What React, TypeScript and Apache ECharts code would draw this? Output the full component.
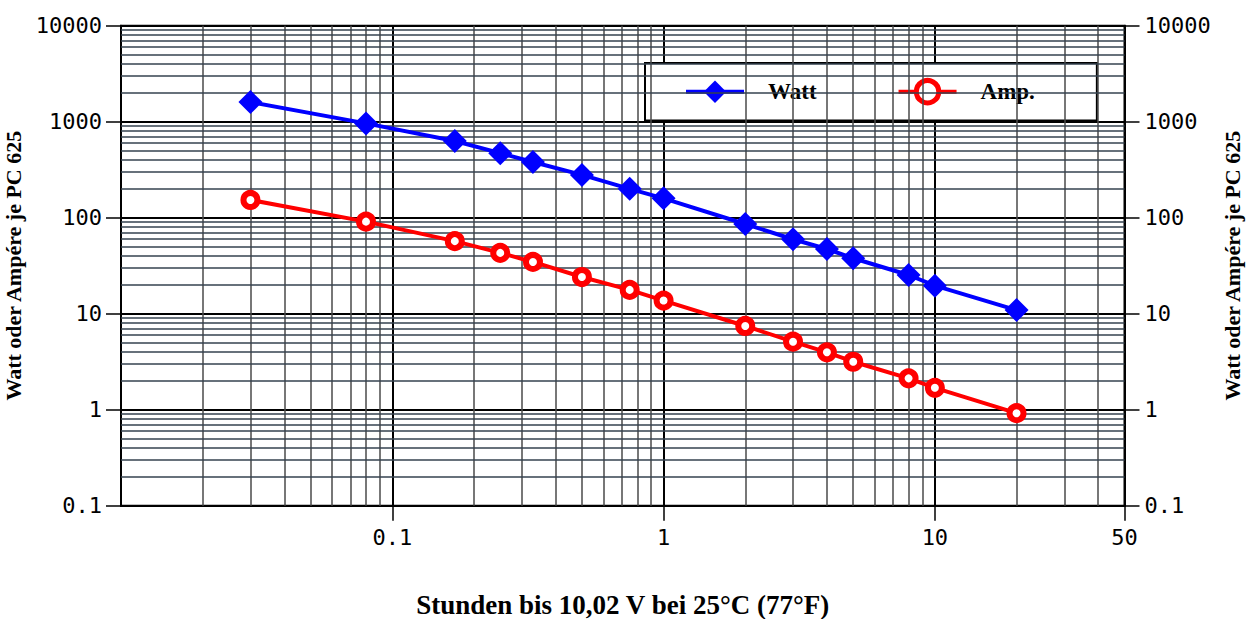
import React, { useEffect, useRef } from 'react';
import * as echarts from 'echarts';

// Hours until 10.02 V at 25°C
const hours = [0.03, 0.08, 0.17, 0.25, 0.33, 0.5, 0.75, 1, 2, 3, 4, 5, 8, 10, 20];
// Watt per PC 625
const watt = [1600, 960, 630, 470, 380, 279, 200, 159, 86, 59.6, 47.2, 37.8, 25.3, 19.6, 10.9];
// Ampere per PC 625
const amp = [153, 91, 57, 43, 34.6, 24.1, 17.7, 13.7, 7.45, 5.11, 3.96, 3.16, 2.12, 1.69, 0.92];

const xMin = 0.01;
const xMax = 50;
const yMin = 0.1;
const yMax = 10000;

// minor grid lines of the log paper
const xMinorGrid = [
  0.02, 0.03, 0.04, 0.05, 0.06, 0.07, 0.08, 0.09,
  0.2, 0.3, 0.4, 0.5, 0.6, 0.7, 0.8, 0.9,
  2, 3, 4, 5, 6, 7, 8, 9,
  20, 30, 40,
];
const yMinorGrid = [
  0.2, 0.3, 0.4, 0.5, 0.6, 0.7, 0.8, 0.9,
  2, 3, 4, 5, 6, 7, 8, 9,
  20, 30, 40, 50, 60, 70, 80, 90,
  200, 300, 400, 500, 600, 700, 800, 900,
  2000, 3000, 4000, 5000, 6000, 7000, 8000, 9000,
];

const xTitle = 'Stunden bis 10,02 V bei 25°C (77°F)';
const yTitle = 'Watt oder Ampére je PC 625';

const monoFont = "'DejaVu Sans Mono', monospace";
const serifFont = "'Liberation Serif', 'DejaVu Serif', serif";

const fmt = (v: number) => String(parseFloat(Number(v).toPrecision(6)));

export default function App() {
  const ref = useRef<HTMLDivElement>(null);

  useEffect(() => {
    if (!ref.current) return;
    const chart = echarts.init(ref.current, null, { renderer: 'svg' });

    const tickLabel = {
      fontFamily: monoFont,
      fontSize: 22,
      color: '#000',
      formatter: fmt,
    };
    const titleStyle = {
      fontFamily: serifFont,
      fontWeight: 'bold' as const,
      color: '#000',
    };

    const option: any = {
      animation: false,
      backgroundColor: '#fff',
      grid: {
        left: 121,
        top: 25.7,
        width: 1003.5,
        height: 480,
        containLabel: false,
        outerBoundsMode: 'none',
        show: true,
        borderColor: '#000',
        borderWidth: 2,
        backgroundColor: 'transparent',
      },
      legend: {
        data: [
          { name: 'Watt' },
          { name: 'Amp.', itemStyle: { borderWidth: 5, borderColor: '#ff0000', color: '#fff' } },
        ],
        left: 645,
        top: 63,
        orient: 'horizontal',
        padding: [15, 62, 15, 39],
        itemWidth: 58,
        itemHeight: 28,
        itemGap: 80,
        backgroundColor: '#fff',
        borderColor: '#000',
        borderWidth: 2,
        borderRadius: 0,
        selectedMode: false,
        lineStyle: { width: 4 },
        textStyle: {
          fontFamily: serifFont,
          fontWeight: 'bold',
          fontSize: 23,
          color: '#000',
          padding: [0, 0, 0, 19],
        },
      },
      xAxis: {
        type: 'log',
        logBase: 10,
        min: xMin,
        max: xMax,
        name: xTitle,
        nameLocation: 'middle',
        nameGap: 86,
        nameTextStyle: { ...titleStyle, fontSize: 27 },
        axisLine: { show: true, lineStyle: { color: '#000', width: 2 } },
        axisTick: { show: true, length: 15, lineStyle: { color: '#000', width: 1.5 } },
        axisLabel: { ...tickLabel, showMinLabel: false, margin: 21 },
        splitLine: { show: true, lineStyle: { color: '#000', width: 2 } },
      },
      yAxis: [
        {
          type: 'log',
          logBase: 10,
          min: yMin,
          max: yMax,
          position: 'left',
          name: yTitle,
          nameLocation: 'middle',
          nameRotate: 90,
          nameGap: 87,
          nameTextStyle: { ...titleStyle, fontSize: 22 },
          axisLine: { show: true, lineStyle: { color: '#000', width: 2 } },
          axisTick: { show: true, length: 15, lineStyle: { color: '#000', width: 1.5 } },
          axisLabel: { ...tickLabel, margin: 19 },
          splitLine: { show: true, lineStyle: { color: '#000', width: 2 } },
        },
        {
          type: 'log',
          logBase: 10,
          min: yMin,
          max: yMax,
          position: 'right',
          name: yTitle,
          nameLocation: 'middle',
          nameRotate: 90,
          nameGap: 94,
          nameTextStyle: { ...titleStyle, fontSize: 22 },
          axisLine: { show: true, lineStyle: { color: '#000', width: 2 } },
          axisTick: { show: true, length: 15, lineStyle: { color: '#000', width: 1.5 } },
          axisLabel: { ...tickLabel, margin: 20 },
          splitLine: { show: false },
        },
      ],
      series: [
        {
          name: 'grid',
          type: 'line',
          data: [],
          silent: true,
          z: 1,
          markLine: {
            silent: true,
            symbol: ['none', 'none'],
            label: { show: false },
            emphasis: { disabled: true },
            animation: false,
            data: [
              ...xMinorGrid.map((v) => ({
                xAxis: v,
                lineStyle: { color: '#4a4a4a', width: 1.5, type: 'solid' },
              })),
              ...yMinorGrid.map((v) => ({
                yAxis: v,
                lineStyle: { color: '#34424f', width: 1.5, type: 'solid' },
              })),
            ],
          },
        },
        {
          name: 'Watt',
          type: 'line',
          z: 5,
          data: hours.map((h, i) => [h, watt[i]]),
          symbol: 'diamond',
          symbolSize: 24,
          lineStyle: { color: '#0000ff', width: 4 },
          itemStyle: { color: '#0000ff' },
          emphasis: { disabled: true },
        },
        {
          name: 'Amp.',
          type: 'line',
          z: 5,
          data: hours.map((h, i) => [h, amp[i]]),
          symbol: 'circle',
          symbolSize: 14,
          lineStyle: { color: '#ff0000', width: 4 },
          itemStyle: { color: '#fff', borderColor: '#ff0000', borderWidth: 6 },
          emphasis: { disabled: true },
        },
      ],
    };

    chart.setOption(option);
    return () => chart.dispose();
  }, []);

  return (
    <div
      ref={ref}
      style={{ position: 'absolute', left: 0, top: 0, width: 1247, height: 619 }}
    />
  );
}
